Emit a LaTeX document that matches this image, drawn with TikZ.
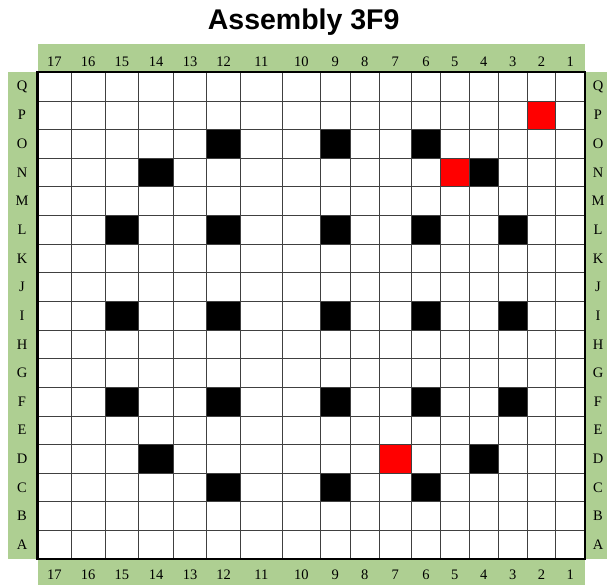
\documentclass[tikz,border=0pt]{standalone}
\usepackage{fontspec}
\setmainfont{Liberation Serif}
\newfontfamily\titlefont{Liberation Sans}
\definecolor{bargreen}{HTML}{AECF92}
\definecolor{cellred}{HTML}{FF0000}
\newcommand\colx[1]{\ifcase#1 37.6\or 71.3\or 105.1\or 138.8\or 173.3\or 206.7\or 240.4\or 282.3\or 320.3\or 350.1\or 379.2\or 411.4\or 440.5\or 469.2\or 498.3\or 527.3\or 555.6\or 584.7\fi}
\begin{document}
\begin{tikzpicture}[x=1pt,y=-1pt,
  bar/.style={fill=bargreen,draw=none},
  lbl/.style={font=\fontsize{14.5}{14.5}\selectfont,inner sep=0pt},
  thinline/.style={draw=black!75,line width=0.7pt},
  border/.style={draw=black,line width=2.4pt}]
\useasboundingbox (0,0) rectangle (608,585);
\def\gtop{72.3}
\def\rh{28.63}
\def\gbot{559}
% green bars
\fill[bar] (37.6,44) rectangle (584.7,\gtop);
\fill[bar] (37.6,\gbot) rectangle (584.7,585);
\fill[bar] (8,\gtop) rectangle (37.6,\gbot);
\fill[bar] (584.7,\gtop) rectangle (607,\gbot);
\fill[white] (37.6,\gtop) rectangle (584.7,\gbot);
% title
\node[font=\titlefont\bfseries\fontsize{28.5}{28.5}\selectfont,inner sep=0pt,anchor=base] (title) at (303.7,29.3) {Assembly 3F9};
% filled cells
\newcommand\fillcell[3]{%
  \pgfmathtruncatemacro\jj{17-#1}%
  \pgfmathtruncatemacro\jk{18-#1}%
  \pgfmathsetmacro\xa{\colx{\jj}}%
  \pgfmathsetmacro\xb{\colx{\jk}}%
  \fill[#3] (\xa,{\gtop+\rh*#2}) rectangle (\xb,{\gtop+\rh*(#2+1)});}
\fillcell{2}{1}{cellred}
\foreach \c in {12,9,6} {\fillcell{\c}{2}{black}}
\fillcell{14}{3}{black}
\fillcell{5}{3}{cellred}
\fillcell{4}{3}{black}
\foreach \r in {5,8,11} {\foreach \c in {15,12,9,6,3} {\fillcell{\c}{\r}{black}}}
\fillcell{14}{13}{black}
\fillcell{7}{13}{cellred}
\fillcell{4}{13}{black}
\foreach \c in {12,9,6} {\fillcell{\c}{14}{black}}
% grid lines
\foreach \j in {1,...,16} {
  \pgfmathsetmacro\xx{\colx{\j}}
  \draw[thinline] (\xx,\gtop) -- (\xx,\gbot);
}
\foreach \i in {1,...,16} {
  \draw[thinline] (37.6,{\gtop+\rh*\i}) -- (584.7,{\gtop+\rh*\i});
}
\draw[border] (37.6,\gtop) rectangle (584.7,\gbot);
% column labels
\foreach \k in {1,...,17} {
  \pgfmathtruncatemacro\jj{17-\k}
  \pgfmathtruncatemacro\jk{18-\k}
  \pgfmathsetmacro\xa{\colx{\jj}}
  \pgfmathsetmacro\xb{\colx{\jk}}
  \pgfmathsetmacro\xm{(\xa+\xb)/2}
  \node[lbl] (top\k) at (\xm,61.5) {\k};
  \node[lbl] (bot\k) at (\xm,575) {\k};
}
% row labels
\foreach \L [count=\i from 0] in {Q,P,O,N,M,L,K,J,I,H,G,F,E,D,C,B,A} {
  \node[lbl] (left\L) at (22,{\gtop+\rh*(\i+0.5)}) {\L};
  \node[lbl] (right\L) at (598,{\gtop+\rh*(\i+0.5)}) {\L};
}
\end{tikzpicture}
\end{document}
